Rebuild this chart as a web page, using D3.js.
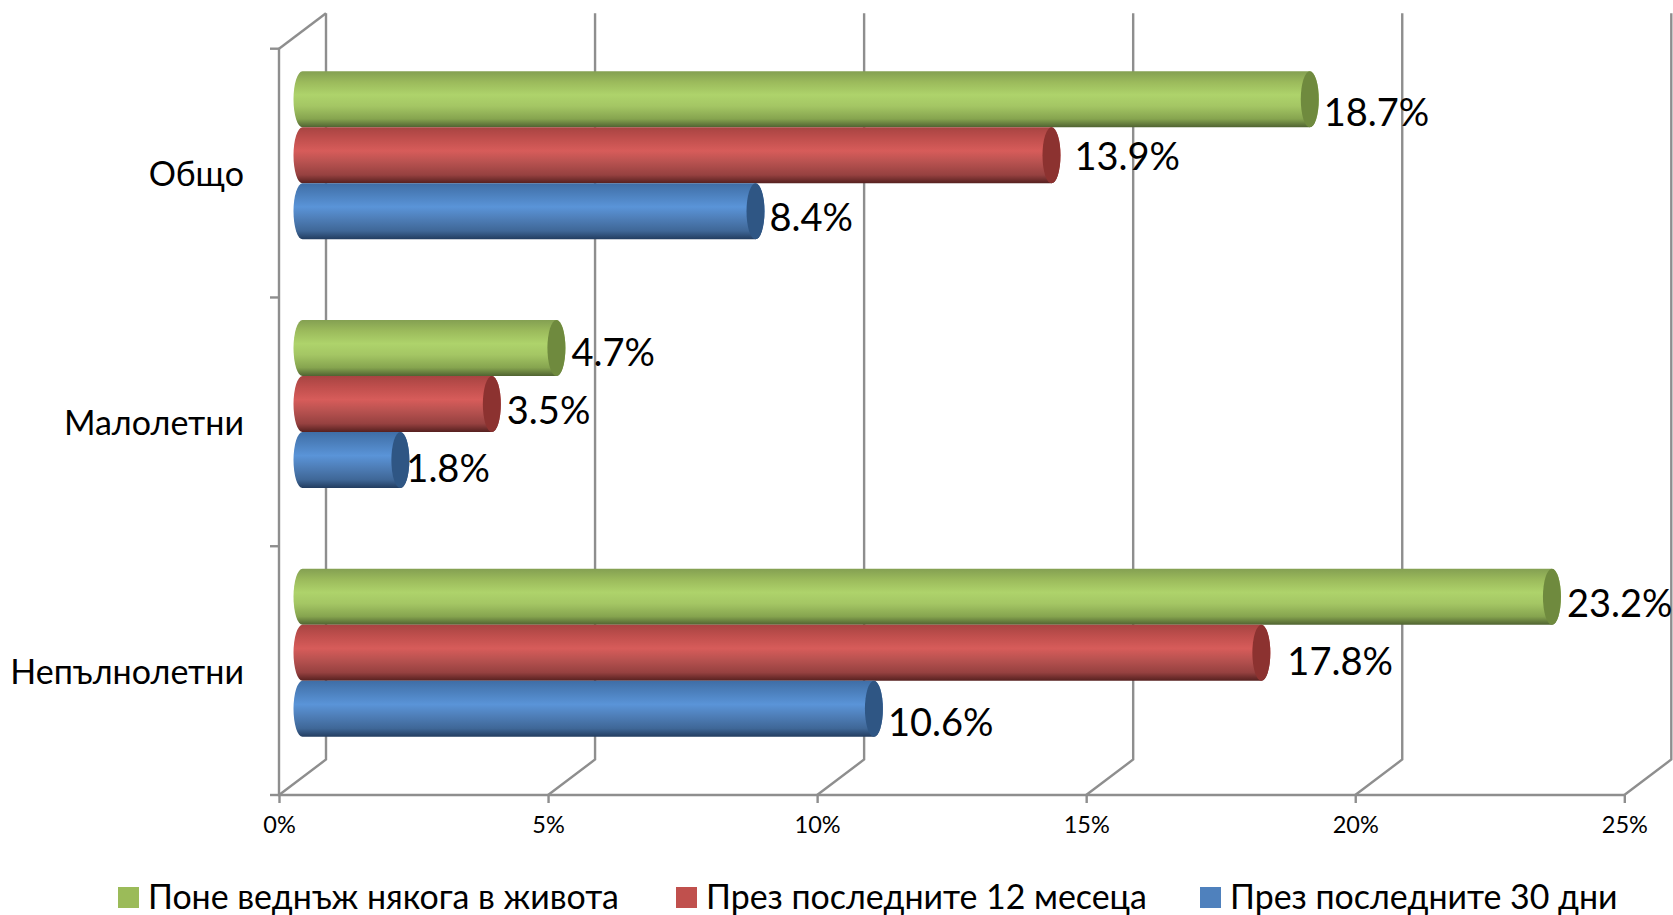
<!DOCTYPE html>
<html><head><meta charset="utf-8">
<script src="https://cdnjs.cloudflare.com/ajax/libs/d3/7.8.5/d3.min.js"></script>
<style>html,body{margin:0;background:#fff}svg{display:block}text{font-family:Lato,"Open Sans","Noto Sans",sans-serif;fill:#000}</style>
</head><body><svg id="c" width="1673" height="915"></svg>
<script>
const categories = ["Общо","Малолетни","Непълнолетни"];
const seriesNames = ["Поне веднъж някога в живота","През последните 12 месеца","През последните 30 дни"];
const lifetime = [18.7,4.7,23.2];
const last12 = [13.9,3.5,17.8];
const last30 = [8.4,1.8,10.6];
const xTicks = [0,5,10,15,20,25];

const W=1673,H=915, x0=279,x1=1624.3,yT=48.7,yB=795,dx=47,dy=-35.5;
const svg=d3.select("#c");
const x=d3.scaleLinear().domain([0,25]).range([x0,x1]);
const y=d3.scaleBand().domain(categories).range([yT,yB]);
const sub=d3.scaleBand().domain([0,1,2]).range([0,168]);
const grid="#8e8e8e";
const defs=svg.append("defs");
const pal=[
 {id:"g",stops:["#84a052","#9cbb5c","#aed36b","#a4c664","#86a44f","#4f6231"],cap:"#6f8a3e"},
 {id:"r",stops:["#a84442","#c04f4d","#d75c5a","#b85250","#964140","#55201f"],cap:"#8c3230"},
 {id:"b",stops:["#3f6ea6","#4c80bd","#5a94d8","#4f7fb9","#3f6797","#223c5f"],cap:"#2f5684"}];
const off=[0,.2,.42,.62,.85,1];
pal.forEach(p=>{const g=defs.append("linearGradient").attr("id",p.id).attr("x1",0).attr("x2",0).attr("y1",0).attr("y2",1);
 p.stops.forEach((s,i)=>g.append("stop").attr("offset",off[i]).attr("stop-color",s));});

// walls
const gw=svg.append("g").attr("fill","none").attr("stroke",grid).attr("stroke-width",2.4);
xTicks.forEach(t=>{const X=x(t);
 gw.append("path").attr("d",`M${X},${yB}L${X+dx},${yB+dy}L${X+dx},${yT+dy}`);
});
gw.append("path").attr("d",`M${x0},${yT}L${x0+dx},${yT+dy}`);
gw.append("path").attr("d",`M${x0},${yT}L${x0},${yB}L${x1},${yB}`);
const step=y.step();
d3.range(4).forEach(i=>gw.append("path").attr("d",`M${x0-9},${yT+i*step}H${x0}`));

// x axis
const ax=svg.append("g").attr("transform",`translate(0,${yB})`).call(d3.axisBottom(x).tickValues(xTicks).tickFormat(d=>d+"%").tickSize(8).tickPadding(13));
ax.select(".domain").remove();
ax.selectAll("line").attr("stroke",grid).attr("stroke-width",2.4);
ax.selectAll("text").style("font-size","23.5px");

// y axis labels
const ay=svg.append("g").attr("transform",`translate(${x0},2.5)`).call(d3.axisLeft(y).tickSize(0).tickPadding(35));
ay.select(".domain").remove();
ay.selectAll("text").style("font-size","34px");

// cylinders
const rx=9;
const labelDy=[[15,3,8],[6,8,10],[8,10,15]];
const labelDx=[[5,14,5],[6,6,-3],[6,17,5]];
const series=[lifetime,last12,last30];
const depth=-dy/2;
const endShift=1;
series.forEach((vals,s)=>{
 const p=pal[s];
 const g=svg.append("g");
 vals.forEach((v,c)=>{
  const top=y(categories[c])+(step-168)/2-depth+sub(s), h=sub.bandwidth();
  const xl=x(0)+dx/2, xr=x(v)+dx/2+endShift, ry=h/2;
  g.append("path").attr("fill",`url(#${p.id})`)
   .attr("d",`M${xl},${top}A${rx},${ry} 0 0 0 ${xl},${top+h}H${xr}A${rx},${ry} 0 0 0 ${xr},${top}Z`);
  g.append("ellipse").attr("cx",xr).attr("cy",top+ry).attr("rx",rx).attr("ry",ry).attr("fill",p.cap);
 });
});
series.forEach((vals,s)=>vals.forEach((v,c)=>{
  const top=y(categories[c])+(step-168)/2-depth+sub(s);
  svg.append("text").attr("x",x(v)+dx/2+rx+labelDx[c][s]+endShift).attr("y",top+sub.bandwidth()/2+labelDy[c][s]+12)
   .style("font-size","38px").text(v.toFixed(1)+"%");
}));

// legend
const lx=[118,676,1200];
seriesNames.forEach((n,i)=>{
 svg.append("rect").attr("x",lx[i]).attr("y",887).attr("width",21).attr("height",21).attr("fill",["#9bbb59","#c0504d","#4f81bd"][i]);
 svg.append("text").attr("x",lx[i]+30).attr("y",908.5).style("font-size","33.9px").text(n);
});
</script></body></html>
